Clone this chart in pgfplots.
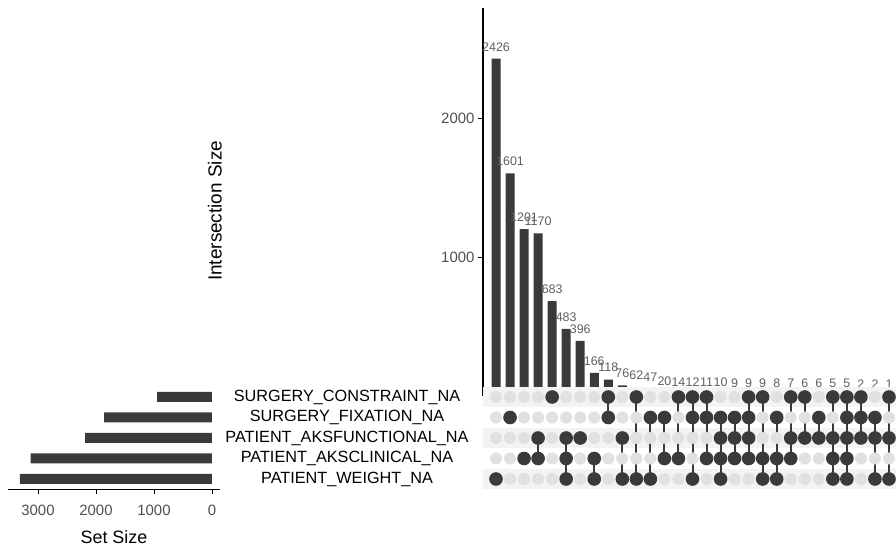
\documentclass[border=0pt]{standalone}
\usepackage{fontspec}
\setmainfont{Liberation Sans}
\usepackage{pgfplots}
\pgfplotsset{compat=1.18}
\pgfplotsset{/pgf/number format/1000 sep={}, /pgf/number format/assume math mode=true}
\definecolor{barc}{RGB}{58,58,58}
\definecolor{dotoff}{RGB}{225,225,225}
\definecolor{stripe}{RGB}{243,243,243}
\definecolor{tickc}{RGB}{80,80,80}
\definecolor{labc}{RGB}{95,95,95}
\tikzset{mcol/.style={barc, solid, line width=2bp, mark=*, mark size=5.8bp, mark options={solid, fill=barc, draw=barc}}}
\begin{document}
\begin{tikzpicture}[x=1bp,y=1bp]
\useasboundingbox (0,0) rectangle (896,546);
% ---------------- intersection size bars ----------------
\begin{axis}[
  at={(483bp,150bp)}, anchor=south west, scale only axis,
  width=413bp, height=388bp,
  xmin=0.074, xmax=29.5, ymin=0, ymax=2791,
  axis x line=none, axis y line*=left,
  y axis line style={line width=1.2bp, black},
  ytick={1000,2000}, tick align=outside, major tick length=5bp,
  ytick style={black, line width=0.8bp},
  yticklabel style={font=\fontsize{15}{17}\selectfont, text=tickc},
  ylabel={Intersection Size},
  every axis y label/.style={at={(axis description cs:-0.649,0.477)}, rotate=90, anchor=center, font=\fontsize{19}{21}\selectfont},
  clip=false,
]
\addplot[ybar, bar width=9bp, bar shift=0pt, draw=none, fill=none,
  nodes near coords,
  every node near coord/.append style={font=\fontsize{12.5}{14}\selectfont, text=labc, yshift=4bp}]
coordinates {(1,2426)(2,1601)(3,1201)(4,1170)(5,683)(6,483)(7,396)(8,166)(9,118)(10,76)(11,62)(12,47)(13,20)(14,14)(15,12)(16,11)(17,10)(18,9)(19,9)(20,9)(21,8)(22,7)(23,6)(24,6)(25,5)(26,5)(27,2)(28,2)(29,1)};
\addplot[ybar, bar width=9bp, bar shift=0pt, draw=none, fill=barc]
coordinates {(1,2426)(2,1601)(3,1201)(4,1170)(5,683)(6,483)(7,396)(8,166)(9,118)(10,76)(11,62)(12,47)(13,20)(14,14)(15,12)(16,11)(17,10)(18,9)(19,9)(20,9)(21,8)(22,7)(23,6)(24,6)(25,5)(26,5)(27,2)(28,2)(29,1)};
\end{axis}
% ---------------- matrix ----------------
\begin{axis}[
  at={(483bp,56.75bp)}, anchor=south west, scale only axis,
  width=413bp, height=102.5bp,
  xmin=0.074, xmax=29.5, ymin=0.5, ymax=5.5,
  axis line style={draw=none}, xtick=\empty,
  ytick={1,2,3,4,5}, major tick length=0pt,
  yticklabels={PATIENT\_WEIGHT\_NA, PATIENT\_AKSCLINICAL\_NA, PATIENT\_AKSFUNCTIONAL\_NA, SURGERY\_FIXATION\_NA, SURGERY\_CONSTRAINT\_NA},
  yticklabel style={anchor=center, xshift=-136bp, font=\fontsize{16.3}{18}\selectfont, text=black},
  axis background/.style={fill=white},
  clip=false,
]
\fill[stripe] (rel axis cs:0,0.8) rectangle (rel axis cs:1,1);
\fill[stripe] (rel axis cs:0,0.4) rectangle (rel axis cs:1,0.6);
\fill[stripe] (rel axis cs:0,0) rectangle (rel axis cs:1,0.2);
\addplot[only marks, mark=*, mark size=5.8bp, dotoff, mark options={fill=dotoff, draw=dotoff}] coordinates {
(1,1)(2,1)(3,1)(4,1)(5,1)(6,1)(7,1)(8,1)(9,1)(10,1)(11,1)(12,1)(13,1)(14,1)(15,1)(16,1)(17,1)(18,1)(19,1)(20,1)(21,1)(22,1)(23,1)(24,1)(25,1)(26,1)(27,1)(28,1)(29,1)
(1,2)(2,2)(3,2)(4,2)(5,2)(6,2)(7,2)(8,2)(9,2)(10,2)(11,2)(12,2)(13,2)(14,2)(15,2)(16,2)(17,2)(18,2)(19,2)(20,2)(21,2)(22,2)(23,2)(24,2)(25,2)(26,2)(27,2)(28,2)(29,2)
(1,3)(2,3)(3,3)(4,3)(5,3)(6,3)(7,3)(8,3)(9,3)(10,3)(11,3)(12,3)(13,3)(14,3)(15,3)(16,3)(17,3)(18,3)(19,3)(20,3)(21,3)(22,3)(23,3)(24,3)(25,3)(26,3)(27,3)(28,3)(29,3)
(1,4)(2,4)(3,4)(4,4)(5,4)(6,4)(7,4)(8,4)(9,4)(10,4)(11,4)(12,4)(13,4)(14,4)(15,4)(16,4)(17,4)(18,4)(19,4)(20,4)(21,4)(22,4)(23,4)(24,4)(25,4)(26,4)(27,4)(28,4)(29,4)
(1,5)(2,5)(3,5)(4,5)(5,5)(6,5)(7,5)(8,5)(9,5)(10,5)(11,5)(12,5)(13,5)(14,5)(15,5)(16,5)(17,5)(18,5)(19,5)(20,5)(21,5)(22,5)(23,5)(24,5)(25,5)(26,5)(27,5)(28,5)(29,5)
};
\addplot[mcol] coordinates {(1,1)};
\addplot[mcol] coordinates {(2,4)};
\addplot[mcol] coordinates {(3,2)};
\addplot[mcol] coordinates {(4,3)(4,2)};
\addplot[mcol] coordinates {(5,5)};
\addplot[mcol] coordinates {(6,3)(6,2)(6,1)};
\addplot[mcol] coordinates {(7,3)};
\addplot[mcol] coordinates {(8,2)(8,1)};
\addplot[mcol] coordinates {(9,5)(9,4)};
\addplot[mcol] coordinates {(10,3)(10,1)};
\addplot[mcol] coordinates {(11,5)(11,1)};
\addplot[mcol] coordinates {(12,4)(12,1)};
\addplot[mcol] coordinates {(13,4)(13,2)};
\addplot[mcol] coordinates {(14,5)(14,2)};
\addplot[mcol] coordinates {(15,5)(15,4)(15,1)};
\addplot[mcol] coordinates {(16,5)(16,4)(16,2)};
\addplot[mcol] coordinates {(17,4)(17,3)(17,2)(17,1)};
\addplot[mcol] coordinates {(18,4)(18,3)(18,2)};
\addplot[mcol] coordinates {(19,5)(19,4)(19,3)(19,2)};
\addplot[mcol] coordinates {(20,5)(20,2)(20,1)};
\addplot[mcol] coordinates {(21,4)(21,2)(21,1)};
\addplot[mcol] coordinates {(22,5)(22,3)(22,2)};
\addplot[mcol] coordinates {(23,5)(23,3)};
\addplot[mcol] coordinates {(24,4)(24,3)};
\addplot[mcol] coordinates {(25,5)(25,3)(25,2)(25,1)};
\addplot[mcol] coordinates {(26,5)(26,4)(26,3)(26,2)(26,1)};
\addplot[mcol] coordinates {(27,5)(27,4)(27,3)};
\addplot[mcol] coordinates {(28,4)(28,3)(28,1)};
\addplot[mcol] coordinates {(29,5)(29,3)(29,1)};
\end{axis}
% ---------------- set size ----------------
\begin{axis}[
  at={(8bp,56.75bp)}, anchor=south west, scale only axis,
  width=212bp, height=102.5bp,
  x dir=reverse, xmin=-138, xmax=3517, ymin=0.5, ymax=5.5,
  axis y line=none, axis x line*=bottom,
  x axis line style={line width=1.2bp, black},
  xtick={0,1000,2000,3000}, ytick=\empty,
  tick align=outside, major tick length=5bp, xtick pos=bottom,
  xtick style={black, line width=0.8bp},
  xticklabel style={font=\fontsize{15}{17}\selectfont, text=tickc, yshift=-7bp},
  xlabel={Set Size},
  every axis x label/.style={at={(axis description cs:0.5,-0.466)}, anchor=center, font=\fontsize{18}{20}\selectfont},
]
\addplot[xbar, bar width=10bp, bar shift=0pt, draw=none, fill=barc]
coordinates {(944,5)(1860,4)(2187,3)(3127,2)(3312,1)};
\end{axis}
\end{tikzpicture}
\end{document}
